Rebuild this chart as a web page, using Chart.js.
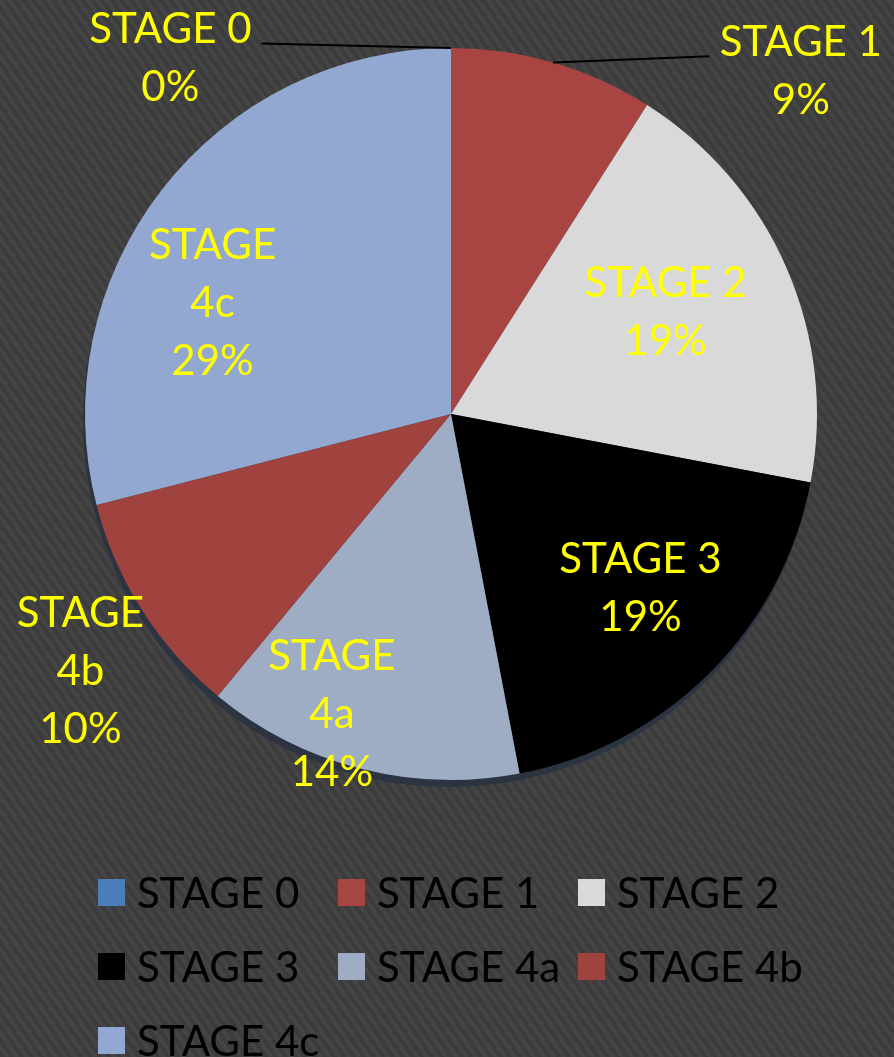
<!DOCTYPE html>
<html>
<head>
<meta charset="utf-8">
<title>Stage distribution</title>
<script src="https://cdn.jsdelivr.net/npm/chart.js@4/dist/chart.umd.min.js"></script>
<style>
  html, body {
    margin: 0;
    padding: 0;
    width: 894px;
    height: 1057px;
    overflow: hidden;
    background-color: #404040;
    background-image: repeating-linear-gradient(55deg, #3c3c3c 0px, #3c3c3c 4px, #444444 4px, #444444 8px);
  }
  #wrap { position: relative; width: 894px; height: 1057px; }
  #pie { position: absolute; left: 0; top: 0; }
  #legend {
    position: absolute;
    left: 98px;
    top: 855px;
    display: grid;
    grid-template-columns: 240px 240px 240px;
    grid-auto-rows: 74px;
    font-family: Lato, "Open Sans", sans-serif;
    font-size: 42px;
    color: #000;
  }
  #legend .item { display: flex; align-items: center; white-space: nowrap; }
  #legend .box { width: 27px; height: 27px; margin-right: 12px; flex: none; }
</style>
</head>
<body>
<div id="wrap">
  <canvas id="pie" width="894" height="860"></canvas>
  <div id="legend"></div>
</div>
<script>
// data
var stages = ["STAGE 0", "STAGE 1", "STAGE 2", "STAGE 3", "STAGE 4a", "STAGE 4b", "STAGE 4c"];
var shares = [0, 9, 19, 19, 14, 10, 29];
var sliceColors = ["#4a7ebb", "#a84542", "#d9d9d9", "#000000", "#9eacc4", "#a0433f", "#93a8d0"];

// label layout: distance from centre (x radius), angle shift in degrees, wrap name onto two lines
var labelRadius = [1.24, 1.34, 0.65, 0.70, 0.88, 1.23, 0.72];
var labelShift  = [-38.2, 29.3, -2.2, -2.7, 7.3, -2.2, -12.6];
var labelWrap   = [false, false, false, false, true, true, true];
var leader      = [true, true, false, false, false, false, false];

var FONT_PX = 42;
var FONT = FONT_PX + "px Lato, 'Open Sans', sans-serif";
var LINE_H = 58;

// dark rim under the pie, gives the slight 3d edge at the bottom
var rimPlugin = {
  id: "rim",
  beforeDatasetsDraw: function (chart) {
    var arc = chart.getDatasetMeta(0).data[0];
    var p = arc.getProps(["x", "y", "outerRadius"], true);
    var ctx = chart.ctx;
    ctx.save();
    ctx.fillStyle = "#2c3442";
    ctx.beginPath();
    ctx.arc(p.x - 2, p.y + 7, p.outerRadius, 0, Math.PI * 2);
    ctx.fill();
    ctx.restore();
  }
};

var labelPlugin = {
  id: "stageLabels",
  afterDatasetsDraw: function (chart) {
    var ctx = chart.ctx;
    var meta = chart.getDatasetMeta(0);
    ctx.save();
    ctx.font = FONT;
    ctx.textAlign = "center";
    ctx.textBaseline = "alphabetic";
    meta.data.forEach(function (arc, i) {
      var p = arc.getProps(["x", "y", "startAngle", "endAngle", "outerRadius"], true);
      var mid = (p.startAngle + p.endAngle) / 2;
      var ang = mid + labelShift[i] * Math.PI / 180;
      var r = p.outerRadius * labelRadius[i];
      var cx = p.x + Math.cos(ang) * r;
      var cy = p.y + Math.sin(ang) * r;

      var name = stages[i];
      var lines = labelWrap[i] ? name.split(" ") : [name];
      lines.push(shares[i] + "%");

      var capH = FONT_PX * 0.72;
      var firstY = cy - (lines.length - 1) * LINE_H / 2;

      if (leader[i]) {
        var w = ctx.measureText(lines[0]).width;
        var side = Math.cos(ang) < 0 ? 1 : -1;
        var ex = cx + side * (w / 2 + 10);
        var ey = firstY + capH / 2;
        ctx.strokeStyle = "#000";
        ctx.lineWidth = 2;
        ctx.beginPath();
        ctx.moveTo(p.x + Math.cos(mid) * p.outerRadius, p.y + Math.sin(mid) * p.outerRadius);
        ctx.lineTo(ex, ey);
        ctx.stroke();
      }

      ctx.fillStyle = "#ffff00";
      lines.forEach(function (t, k) {
        ctx.fillText(t, cx, firstY + k * LINE_H + capH / 2);
      });
    });
    ctx.restore();
  }
};

var chart = new Chart("pie", {
  type: "pie",
  data: {
    labels: stages,
    datasets: [{
      data: shares,
      backgroundColor: sliceColors,
      borderWidth: 0
    }]
  },
  options: {
    responsive: false,
    animation: false,
    layout: { padding: { left: 85, right: 77, top: 48, bottom: 80 } },
    plugins: {
      legend: { display: false },
      tooltip: { enabled: false }
    }
  },
  plugins: [rimPlugin, labelPlugin]
});

// legend grid under the pie
var legendBox = document.getElementById("legend");
stages.forEach(function (s, i) {
  var item = document.createElement("div");
  item.className = "item";
  var box = document.createElement("span");
  box.className = "box";
  box.style.background = sliceColors[i];
  item.appendChild(box);
  item.appendChild(document.createTextNode(s));
  legendBox.appendChild(item);
});
</script>
</body>
</html>
